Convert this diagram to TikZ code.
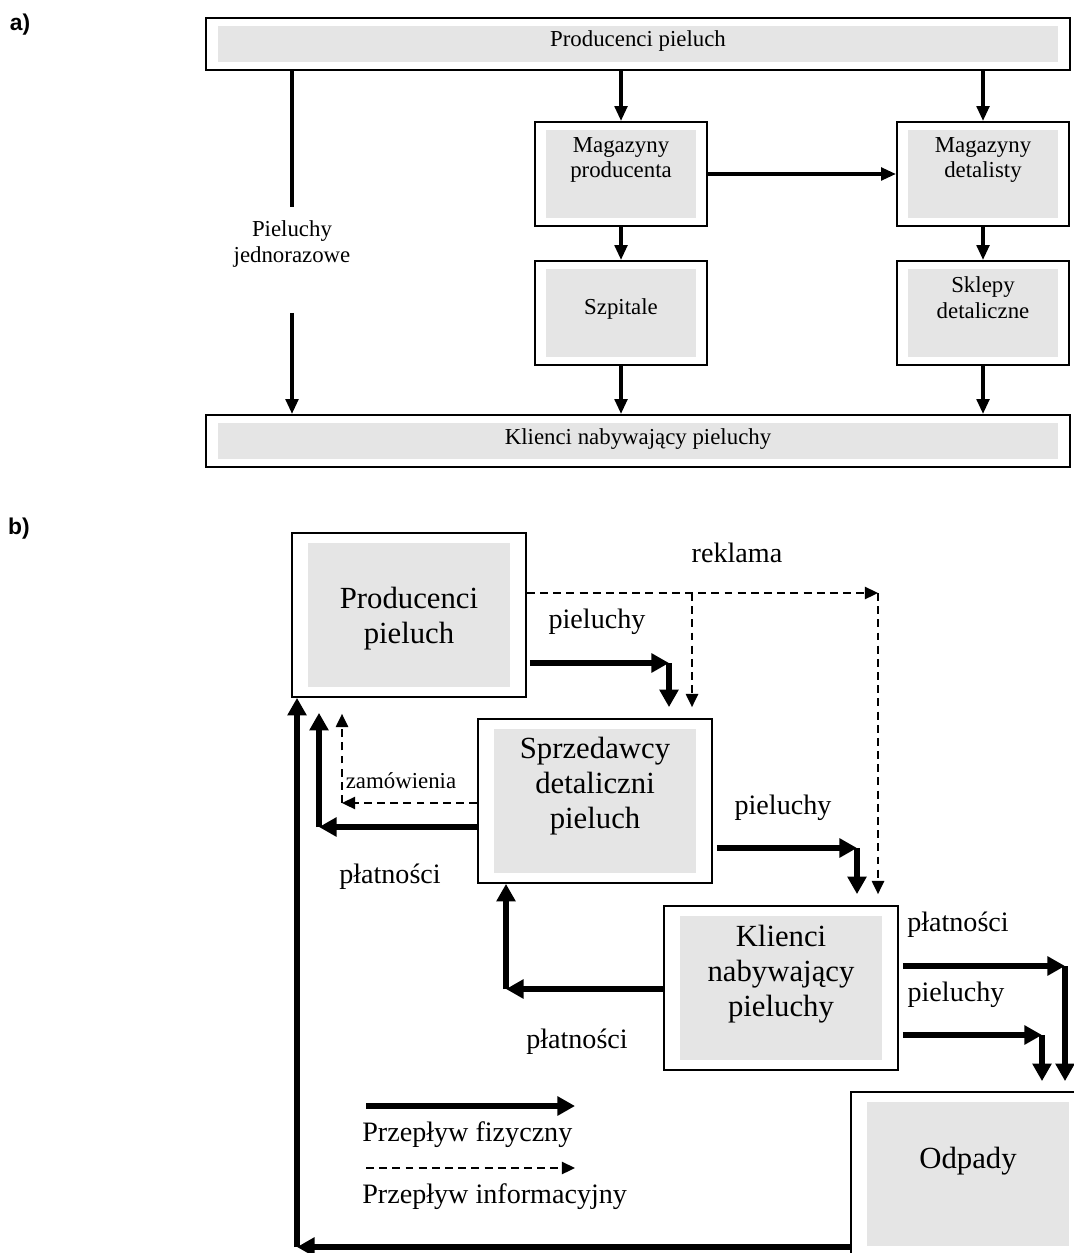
\documentclass[tikz,border=0pt]{standalone}
\usepackage{fontspec}
\setmainfont{Liberation Serif}
\newfontfamily\labfont{Liberation Sans}
\usetikzlibrary{arrows.meta}
\newlength{\pix}
\setlength{\pix}{0.02cm}
\newcommand{\partafont}{\fontsize{13}{14.6}\selectfont}
\newcommand{\boxfont}{\fontsize{17.5}{19.8}\selectfont}
\newcommand{\flowfont}{\fontsize{16}{19}\selectfont}

\begin{document}
\begin{tikzpicture}[x=0.02cm, y=-0.02cm,
	grbox/.style 2 args={draw, line width=1pt, fill=white, inner sep=0pt, align=center,
		path picture={\fill[gray!20] ([shift={(#1,#2)}]path picture bounding box.south west)
			rectangle ([shift={(-#1,-#2)}]path picture bounding box.north east);}},
	abox/.style={grbox={11\pix}{8\pix}, font=\partafont, minimum width=172\pix, minimum height=104\pix},
	awide/.style={grbox={12\pix}{8\pix}, font=\partafont, minimum width=864\pix, minimum height=52\pix,
		text height=29\pix, text depth=23\pix},
	bbox/.style={grbox={16\pix}{10\pix}, font=\boxfont, minimum width=234\pix, minimum height=164\pix},
	flow/.style={font=\flowfont},
	athk/.style={line width=2.2pt, -{Triangle[length=8.5pt,width=7pt]}},
	fat/.style={line width=3.4pt, -{Triangle[length=10pt,width=10.5pt]}},
	info/.style={line width=1pt, dash pattern=on 4.5pt off 3pt, -{Triangle[length=7.5pt,width=7pt]}},
	part/.style={font={\labfont\fontsize{13}{15}\selectfont\bfseries}}]
	\useasboundingbox (0,0) rectangle (1074,1253);

	% a)
	\node (la) at (20,25)	[part]	{a)};
	\node (PPa) at (638,44)	[awide]	{Producenci pieluch};
	\node (MPa) at (621,174)	[abox, text height=56\pix, text depth=48\pix]	{Magazyny\\producenta};
	\node (MDa) at (983,174)	[abox, text height=56\pix, text depth=48\pix]	{Magazyny\\detalisty};
	\node (SZa) at (621,313)	[abox, text height=54\pix, text depth=50\pix]	{Szpitale};
	\node (SKa) at (983,313)	[abox, text height=57\pix, text depth=47\pix]	{Sklepy\\detaliczne};
	\node (KNa) at (638,441)	[awide]	{Klienci nabywający pieluchy};
	\node (PJ) at (292,260)	[font=\partafont, align=center, inner sep=0pt, text height=55\pix, text depth=50\pix]	{Pieluchy\\jednorazowe};

	\draw[athk] (PPa.south -| MPa) -- (MPa.north);
	\draw[athk] (PPa.south -| MDa) -- (MDa.north);
	\draw[athk] (MPa.east) -- (MDa.west);
	\draw[athk] (MPa.south) -- (SZa.north);
	\draw[athk] (MDa.south) -- (SKa.north);
	\draw[athk] (SZa.south) -- (KNa.north -| SZa);
	\draw[athk] (SKa.south) -- (KNa.north -| SKa);
	\draw[athk, -] (PPa.south -| PJ) -- (PJ.north);
	\draw[athk] (PJ.south) -- (KNa.north -| PJ);

	% b)
	\node (lb) at (19,529)	[part]	{b)};
	\node (PPb) at (409,615)	[bbox, text height=110\pix, text depth=54\pix]	{Producenci\\pieluch};
	\node (SDb) at (595,801)	[bbox, text height=109\pix, text depth=55\pix]	{Sprzedawcy\\detaliczni\\pieluch};
	\node (KNb) at (781,988)	[bbox, text height=110\pix, text depth=54\pix]	{Klienci\\nabywający\\pieluchy};
	\node (ODb) at (968,1174)	[bbox, text height=76\pix, text depth=88\pix]	{Odpady};

	\node (lrek) at (737,553)	[flow]	{reklama};
	\node (lpi1) at (597,622)	[flow]	{pieluchy};
	\node (lzam) at (401,781)	[font=\partafont]	{zamówienia};
	\node (lpl1) at (390,877)	[flow]	{płatności};
	\node (lpi2) at (783,808)	[flow]	{pieluchy};
	\node (lpl2) at (577,1042)	[flow]	{płatności};
	\node (lpl3) at (958,925)	[flow]	{płatności};
	\node (lpi3) at (956,995)	[flow]	{pieluchy};

	\coordinate (r1) at (878,593);
	\coordinate (r2) at (692,593);
	\coordinate (p1) at (669,663);
	\coordinate (z1) at (319,827);
	\coordinate (z2) at (342,803);
	\coordinate (s1) at (857,848);
	\coordinate (k1) at (506,989);
	\coordinate (k2) at (1065,966);
	\coordinate (k3) at (1042,1035);
	\coordinate (o1) at (297,1247);

	\draw[info] (PPb.east |- r1) -- (r1);
	\draw[info, shorten >=11\pix] (r1) -- (r1 |- KNb.north);
	\draw[info, shorten >=11\pix] (r2) -- (r2 |- SDb.north);
	\draw[fat, shorten <=3\pix] (PPb.east |- p1) -- (p1);
	\draw[fat, shorten >=11\pix] (p1) -- (p1 |- SDb.north);
	\draw[fat] (SDb.west |- z1) -- (z1);
	\draw[fat, shorten >=15\pix] (z1) -- (z1 |- PPb.south);
	\draw[info] (SDb.west |- z2) -- (z2);
	\draw[info, shorten >=16\pix] (z2) -- (z2 |- PPb.south);
	\draw[fat, shorten <=4\pix] (SDb.east |- s1) -- (s1);
	\draw[fat, shorten >=11\pix] (s1) -- (s1 |- KNb.north);
	\draw[fat] (KNb.west |- k1) -- (k1);
	\draw[fat] (k1) -- (k1 |- SDb.south);
	\draw[fat, shorten <=4\pix] (KNb.east |- k2) -- (k2);
	\draw[fat, shorten >=10\pix] (k2) -- (k2 |- ODb.north);
	\draw[fat, shorten <=4\pix] (KNb.east |- k3) -- (k3);
	\draw[fat, shorten >=10\pix] (k3) -- (k3 |- ODb.north);
	\draw[fat] (ODb.west |- o1) -- (o1);
	\draw[fat] (o1) -- (o1 |- PPb.south);

	% legend
	\node (lgf) at (362,1135)	[flow, anchor=west, inner sep=0pt]	{Przepływ fizyczny};
	\node (lgi) at (362,1197)	[flow, anchor=west, inner sep=0pt]	{Przepływ informacyjny};
	\coordinate (g1) at (366,1106);
	\coordinate (g2) at (575,1106);
	\coordinate (g3) at (366,1168);
	\coordinate (g4) at (575,1168);
	\draw[fat] (g1) -- (g2);
	\draw[info] (g3) -- (g4);
\end{tikzpicture}
\end{document}
